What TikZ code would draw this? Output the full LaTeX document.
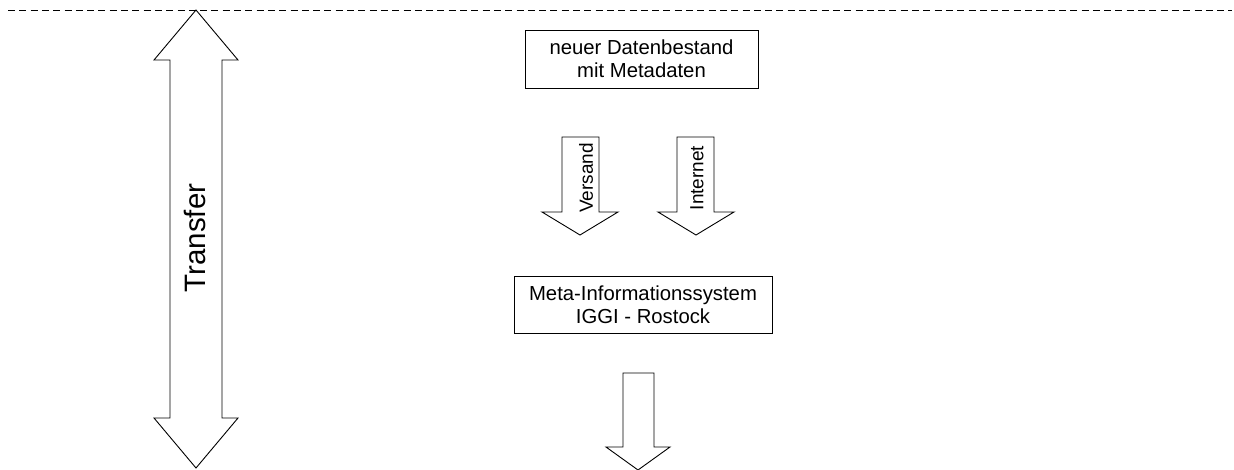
\documentclass[tikz,border=0pt]{standalone}
\usepackage{fontspec}
\setmainfont{Liberation Sans}
\begin{document}
\begin{tikzpicture}[x=1pt,y=-1pt,
  outline/.style={draw=black,line width=0.9pt,line join=miter,fill=white},
  infobox/.style={draw=black,line width=0.9pt,align=center,font=\fontsize{20.3}{23}\selectfont,inner sep=0pt},
  arrowlabel/.style={rotate=90,font=\fontsize{19}{22}\selectfont,inner sep=0pt}]
\useasboundingbox (0,0) rectangle (1234,470);

% dashed separator along the top
\coordinate (sepL) at (8,10);
\coordinate (sepR) at (1232,10);
\draw[line width=0.9pt,dash pattern=on 7pt off 4.3pt] (sepL) -- (sepR);

% double-headed transfer arrow
\draw[outline] (196,10) -- (238,60) -- (222,60) -- (222,418) -- (238,418)
  -- (196,468) -- (154,418) -- (170,418) -- (170,60) -- (154,60) -- cycle;
\node[arrowlabel,font=\fontsize{29.5}{32}\selectfont] (transfer) at (195,238) {Transfer};

% boxes
\node[infobox,minimum width=233pt,minimum height=58pt] (daten) at (641.5,59)
  {neuer Datenbestand\\mit Metadaten};
\node[infobox,minimum width=258pt,minimum height=57pt] (meta) at (643,304.5)
  {Meta-Informationssystem\\IGGI - Rostock};

% transfer channels
\draw[outline] (562,137) -- (599,137) -- (599,212) -- (618,212) -- (580,235)
  -- (542,212) -- (562,212) -- cycle;
\node[arrowlabel] (versand) at (586,178) {Versand};
\draw[outline] (677,137) -- (714,137) -- (714,212) -- (734,212) -- (696,235)
  -- (658,212) -- (677,212) -- cycle;
\node[arrowlabel] (internet) at (697,178) {Internet};

% onward arrow
\draw[outline] (623,373) -- (654,373) -- (654,447) -- (670,447) -- (638,470)
  -- (606,447) -- (623,447) -- cycle;
\end{tikzpicture}
\end{document}
